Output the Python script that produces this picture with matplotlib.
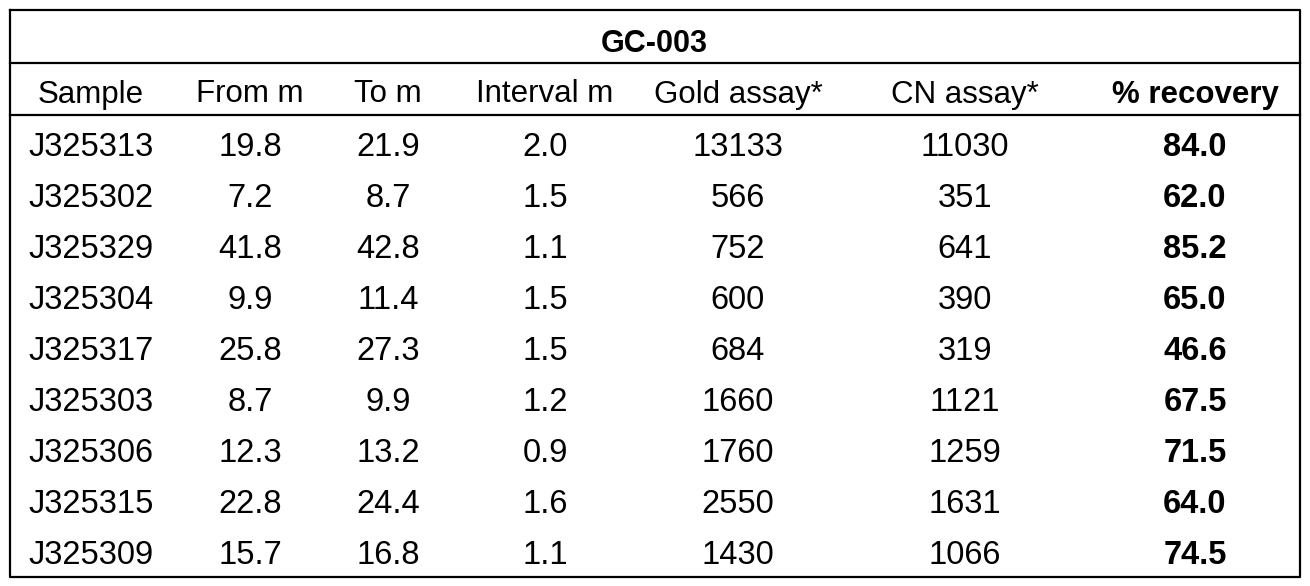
import matplotlib.pyplot as plt

# Table contents
title = "GC-003"
columns = ["Sample", "From m", "To m", "Interval m", "Gold assay*", "CN assay*", "% recovery"]
samples = ["J325313", "J325302", "J325329", "J325304", "J325317",
           "J325303", "J325306", "J325315", "J325309"]
from_m = ["19.8", "7.2", "41.8", "9.9", "25.8", "8.7", "12.3", "22.8", "15.7"]
to_m = ["21.9", "8.7", "42.8", "11.4", "27.3", "9.9", "13.2", "24.4", "16.8"]
interval_m = ["2.0", "1.5", "1.1", "1.5", "1.5", "1.2", "0.9", "1.6", "1.1"]
gold_assay = ["13133", "566", "752", "600", "684", "1660", "1760", "2550", "1430"]
cn_assay = ["11030", "351", "641", "390", "319", "1121", "1259", "1631", "1066"]
recovery = ["84.0", "62.0", "85.2", "65.0", "46.6", "67.5", "71.5", "64.0", "74.5"]

W, H = 1310, 586
fig = plt.figure(figsize=(W / 100, H / 100), dpi=100)
ax = fig.add_axes([0, 0, 1, 1])
ax.set_xlim(0, W)
ax.set_ylim(H, 0)
ax.axis("off")

font = "Liberation Sans"
fs = 23.5
col_x = [91, 250, 388, 545, 738, 965, 1195]

# borders
left, right, top, bottom = 9.5, 1300, 9.5, 577
ax.plot([left, right, right, left, left], [top, top, bottom, bottom, top], color="black", lw=1.6)
ax.plot([left, right], [62.5, 62.5], color="black", lw=1.6)
ax.plot([left, right], [115, 115], color="black", lw=1.6)

ax.text((left + right) / 2, 41, title, ha="center", va="center_baseline",
        fontsize=22, fontweight="bold", family=font)
for i, c in enumerate(columns):
    ax.text(col_x[i], 91, c, ha="center", va="center_baseline", fontsize=22.5,
            family=font, fontweight="bold" if i == 6 else "normal")

rows = list(zip(samples, from_m, to_m, interval_m, gold_assay, cn_assay, recovery))
for r, row in enumerate(rows):
    y = 144 + r * 51
    for i, val in enumerate(row):
        ax.text(col_x[i], y, val, ha="center", va="center_baseline", fontsize=fs,
                family=font, fontweight="bold" if i == 6 else "normal")

fig.savefig("out.png", dpi=100)
